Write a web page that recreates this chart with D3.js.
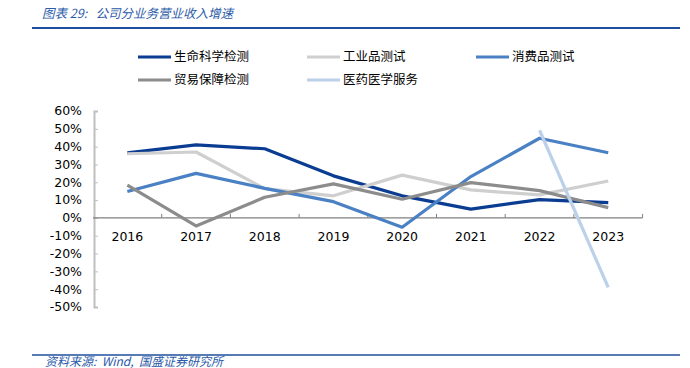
<!DOCTYPE html>
<html>
<head>
<meta charset="utf-8">
<script src="https://cdn.jsdelivr.net/npm/d3@7"></script>
<style>
  body { margin: 0; background: #fff; }
  svg { display: block; }
  text { white-space: pre; }
</style>
</head>
<body>
<div id="chart"></div>
<script>
// data
const years = ['2016', '2017', '2018', '2019', '2020', '2021', '2022', '2023']
const lifeScience = [36.5, 41, 38.8, 23.6, 12.4, 4.9, 10.3, 8.6]
const industrial = [36, 37, 16.4, 12.4, 24, 15.7, 12.9, 20.7]
const consumer = [14.8, 25, 16.6, 9.1, -5.2, 23.2, 44.7, 36.6]
const tradeAssurance = [18.4, -4.5, 11.6, 19.1, 10.5, 19.8, 15.3, 5.8]
const medical = [null, null, null, null, null, null, 49.2, -39]
const yTicks = [60, 50, 40, 30, 20, 10, 0, -10, -20, -30, -40, -50]

const series = [
  { name: '生命科学检测', values: lifeScience, color: '#0a3d91' },
  { name: '工业品测试', values: industrial, color: '#cfcfcf' },
  { name: '消费品测试', values: consumer, color: '#4a80c4' },
  { name: '贸易保障检测', values: tradeAssurance, color: '#8c8c8c' },
  { name: '医药医学服务', values: medical, color: '#bcd0ea' }
]

const width = 690, height = 368
const svg = d3.select('#chart').append('svg')
  .attr('width', width)
  .attr('height', height)

const cjk = '"Noto Sans CJK SC", sans-serif'

// title + rule
svg.append('text')
  .attr('x', 42).attr('y', 18)
  .attr('font-family', cjk)
  .attr('font-size', 12.5)
  .attr('font-style', 'italic')
  .attr('fill', '#2a5aa8')
  .text('图表 29:   公司分业务营业收入增速')
svg.append('line')
  .attr('x1', 32).attr('x2', 680).attr('y1', 28).attr('y2', 28)
  .attr('stroke', '#1f4f9c').attr('stroke-width', 2)

// scales
const x = d3.scaleBand().domain(years).range([93, 642.6])
const y = d3.scaleLinear().domain([-50, 60]).range([307, 111])

// y axis
const yAxis = svg.append('g').attr('transform', 'translate(94,0)')
  .call(d3.axisRight(y).tickValues(yTicks).tickSize(4).tickFormat(''))
yAxis.select('.domain').attr('stroke', '#bfbfbf').attr('stroke-width', 2)
yAxis.selectAll('.tick line').attr('stroke', '#bfbfbf')

svg.append('g').selectAll('text')
  .data(yTicks).enter().append('text')
  .attr('x', 82).attr('y', d => y(d))
  .attr('dy', '0.35em')
  .attr('text-anchor', 'end')
  .attr('font-family', 'Verdana, "DejaVu Sans", sans-serif')
  .attr('font-size', 12.5)
  .attr('fill', '#000')
  .text(d => d + '%')

// x axis at 0
const xg = svg.append('g')
xg.append('line')
  .attr('x1', 93).attr('x2', x.range()[1])
  .attr('y1', y(0)).attr('y2', y(0))
  .attr('stroke', '#808080').attr('stroke-width', 1.2)
xg.selectAll('.xt')
  .data(years).enter().append('line')
  .attr('x1', d => x(d) + x.bandwidth())
  .attr('x2', d => x(d) + x.bandwidth())
  .attr('y1', y(0)).attr('y2', y(0) - 4)
  .attr('stroke', '#808080')
xg.selectAll('text')
  .data(years).enter().append('text')
  .attr('x', d => x(d) + x.bandwidth() / 2)
  .attr('y', 241)
  .attr('text-anchor', 'middle')
  .attr('font-family', 'Verdana, "DejaVu Sans", sans-serif')
  .attr('font-size', 12.5)
  .attr('fill', '#000')
  .text(d => d)

// lines
const line = d3.line()
  .defined(d => d.v !== null)
  .x(d => x(d.year) + x.bandwidth() / 2)
  .y(d => y(d.v))

svg.append('g').selectAll('path')
  .data(series).enter().append('path')
  .attr('d', s => line(s.values.map((v, i) => ({ year: years[i], v: v }))))
  .attr('fill', 'none')
  .attr('stroke', s => s.color)
  .attr('stroke-width', 3.2)
  .attr('stroke-linejoin', 'round')

// legend
const legendPos = [[138, 57], [307, 57], [476, 57], [138, 80], [307, 80]]
const lg = svg.append('g').selectAll('g')
  .data(series).enter().append('g')
  .attr('transform', (d, i) => 'translate(' + legendPos[i][0] + ',' + legendPos[i][1] + ')')
lg.append('line')
  .attr('x1', 0).attr('x2', 33).attr('y1', 0).attr('y2', 0)
  .attr('stroke', d => d.color).attr('stroke-width', 3.2)
lg.append('text')
  .attr('x', 36).attr('dy', '0.35em')
  .attr('font-family', cjk)
  .attr('font-size', 12.5)
  .attr('fill', '#000')
  .text(d => d.name)

// footer
svg.append('line')
  .attr('x1', 32).attr('x2', 680).attr('y1', 355).attr('y2', 355)
  .attr('stroke', '#1f4f9c').attr('stroke-width', 1.5)
svg.append('text')
  .attr('x', 45).attr('y', 366)
  .attr('font-family', cjk)
  .attr('font-size', 12)
  .attr('font-style', 'italic')
  .attr('fill', '#2a5aa8')
  .text('资料来源:  Wind,  国盛证券研究所')
</script>
</body>
</html>
